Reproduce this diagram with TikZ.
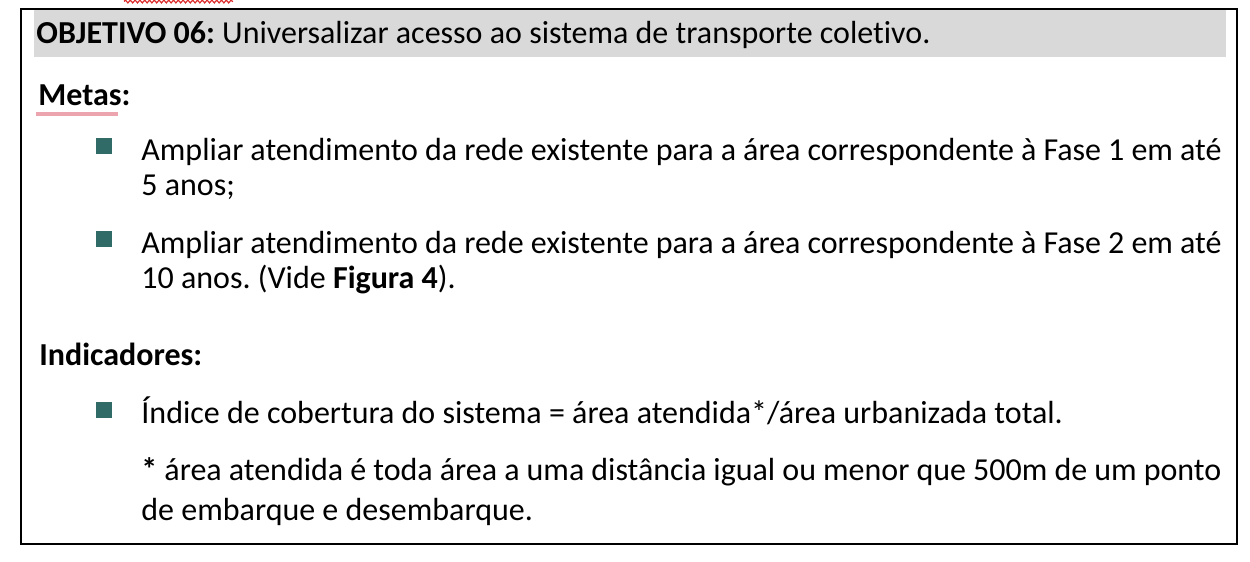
\documentclass[tikz,border=0pt]{standalone}
\usepackage{fontspec}
\setmainfont{Carlito}[RawFeature=-liga]
\usepackage{xcolor}
\usetikzlibrary{decorations.pathmorphing}
\definecolor{bandgray}{RGB}{217,217,217}
\definecolor{bulletteal}{RGB}{49,107,104}
\definecolor{spellred}{RGB}{220,45,45}
\definecolor{markpink}{RGB}{236,165,175}
\newcommand{\bodyfont}{\fontsize{16pt}{17.5pt}\selectfont\frenchspacing}
\newcommand{\notefont}{\fontsize{16pt}{20pt}\selectfont\frenchspacing}
\tikzset{
  heading/.style={anchor=base west, inner sep=0pt, font=\bodyfont},
  metatext/.style={anchor=base west, inner sep=0pt, text width=540pt, align=justify, font=\bodyfont},
  bulletsq/.style={fill=bulletteal, draw=none, minimum size=8pt, inner sep=0pt},
}
\begin{document}
\begin{tikzpicture}[x=0.5pt,y=-0.5pt]
              \useasboundingbox (0,0) rectangle (1250,562);
              % frame and band %
              \fill[bandgray] (34,10) rectangle (1226,57);
              \draw[line width=1pt] (21,9) rectangle (1237,544);
              \draw[spellred, line width=0.6pt, decorate, decoration={snake, amplitude=0.7pt, segment length=2.4pt}] (124,1.5) -- (233,1.5);
              \fill[markpink] (36,112) rectangle (118,116);

              % texts %
              \node[heading] (obj) at (36,43) {\textbf{OBJETIVO 06:} Universalizar acesso ao sistema de transporte coletivo.};
              \node[heading] (metas) at (38,105) {\textbf{Metas:}};
              \node[metatext] (m1) at (141,160) {Ampliar atendimento da rede existente para a área correspondente à Fase 1 em até\linebreak 5 anos;};
              \node[metatext] (m2) at (141,253) {Ampliar atendimento da rede existente para a área correspondente à Fase 2 em até\linebreak 10 anos. (Vide \textbf{Figura 4}).};
              \node[heading] (ind) at (39,365) {\textbf{Indicadores:}};
              \node[metatext] (i1) at (141,423) {Índice de cobertura do sistema = área atendida*/área urbanizada total.};
              \node[metatext, font=\notefont] (nota) at (141,480) {\textbf{*} área atendida é toda área a uma distância igual ou menor que 500m de um ponto\linebreak de embarque e desembarque.};

              % bullets %
              \node[bulletsq] (b1) at (104,146) {};
              \node[bulletsq] (b2) at (104,239) {};
              \node[bulletsq] (b3) at (104,409.5) {};
            \end{tikzpicture}
\end{document}
